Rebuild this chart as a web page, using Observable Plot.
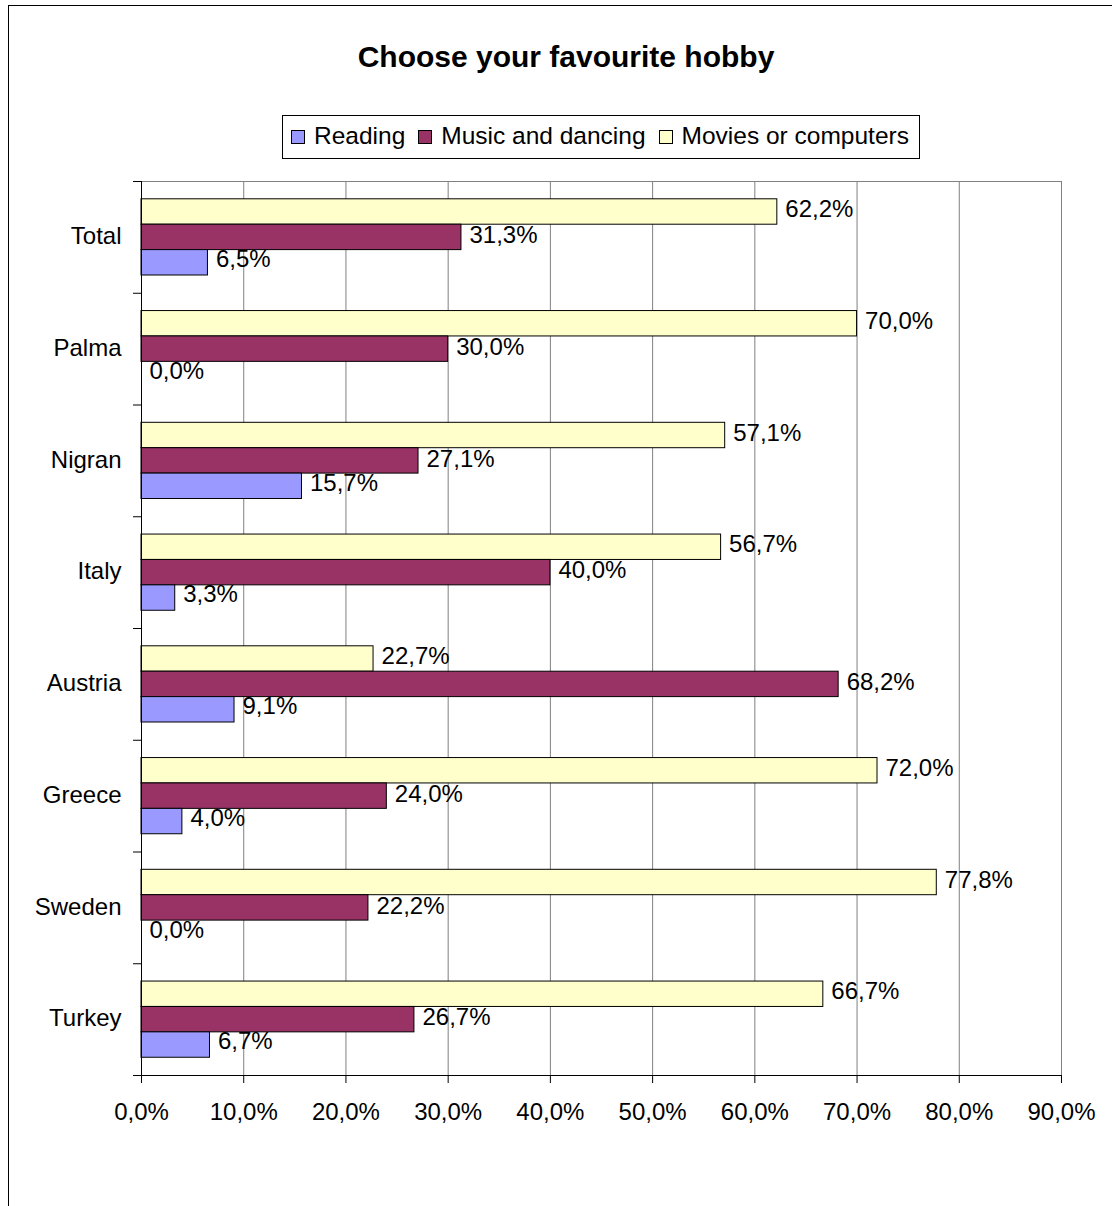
<!DOCTYPE html>
<html>
<head>
<meta charset="utf-8">
<script src="https://cdn.jsdelivr.net/npm/d3@7"></script>
<script src="https://cdn.jsdelivr.net/npm/@observablehq/plot@0.6"></script>
<style>
  html, body { margin: 0; padding: 0; background: #fff; overflow: hidden; }
  #wrap { position: relative; width: 1112px; height: 1206px; overflow: hidden; font-family: "Liberation Sans", Arial, sans-serif; }
  #border { position: absolute; left: 8px; top: 5px; width: 1300px; height: 1400px; border: 1px solid #000; box-sizing: border-box; }
  #title { position: absolute; left: 0; width: 1132px; top: 40px; text-align: center; font-weight: bold; font-size: 30px; color: #000; }
  #legend { position: absolute; left: 282px; top: 115px; width: 638px; height: 44px; border: 1px solid #000; box-sizing: border-box; display: flex; align-items: center; justify-content: flex-start; padding-left: 8px; padding-bottom: 3px; gap: 13px; font-size: 24.5px; }
  .item { display: flex; align-items: center; gap: 9px; white-space: nowrap; }
  .sw { width: 14px; height: 14px; border: 1px solid #000; box-sizing: border-box; margin-top: 3px; }
  #chart { position: absolute; left: 0; top: 0; }
</style>
</head>
<body>
<div id="wrap">
  <div id="border"></div>
  <div id="chart"></div>
  <div id="title"></div>
  <div id="legend"></div>
</div>
<script>
const title = "Choose your favourite hobby";
const categories = ["Total", "Palma", "Nigran", "Italy", "Austria", "Greece", "Sweden", "Turkey"];
const seriesNames = ["Reading", "Music and dancing", "Movies or computers"];
const reading = [6.5, 0.0, 15.7, 3.3, 9.1, 4.0, 0.0, 6.7];
const music = [31.3, 30.0, 27.1, 40.0, 68.2, 24.0, 22.2, 26.7];
const movies = [62.2, 70.0, 57.1, 56.7, 22.7, 72.0, 77.8, 66.7];
const xTicks = [0, 10, 20, 30, 40, 50, 60, 70, 80, 90];
const colors = ["#9999FF", "#993366", "#FFFFCC"];

const fmt = v => v.toFixed(1).replace(".", ",") + "%";

const rows = (vals, s) => categories.map((c, i) => ({category: c, series: s, value: vals[i]}));
const readingRows = rows(reading, seriesNames[0]);
const musicRows = rows(music, seriesNames[1]);
const moviesRows = rows(movies, seriesNames[2]);

document.getElementById("title").textContent = title;
const leg = document.getElementById("legend");
seriesNames.forEach((s, i) => {
  const it = document.createElement("div");
  it.className = "item";
  const sw = document.createElement("div");
  sw.className = "sw";
  sw.style.background = colors[i];
  const t = document.createElement("span");
  t.textContent = s;
  it.appendChild(sw); it.appendChild(t);
  leg.appendChild(it);
});

const W = 1112, H = 1206;
const mT = 181, mB = 131, mL = 141, mR = 51;
const bw = (H - mT - mB) / categories.length;
const gap = 17.8, bh = 25.4;
const FS = 24;

const bar = (data, k) => Plot.barX(data, {
  x: "value", y: "category", fill: colors[seriesNames.indexOf(data[0].series)],
  insetTop: gap + k * bh, insetBottom: bw - gap - (k + 1) * bh, stroke: "#000", strokeWidth: 1
});
const label = (data, dy) => Plot.text(data, {
  x: "value", y: "category", text: d => fmt(d.value), dx: 8, dy,
  textAnchor: "start", fontSize: FS, fill: "#000"
});

const chart = Plot.plot({
  width: W, height: H,
  marginTop: mT, marginBottom: mB, marginLeft: mL, marginRight: mR,
  style: {fontFamily: "'Liberation Sans', Arial, sans-serif", background: "transparent", overflow: "visible"},
  x: {domain: [0, 90], label: null},
  y: {domain: categories, padding: 0, round: false, label: null},
  marks: [
    Plot.ruleX(xTicks.filter(d => d > 0), {stroke: "#808080", strokeWidth: 1}),
    Plot.frame({anchor: "top", stroke: "#808080"}),
    bar(moviesRows, 0),
    bar(musicRows, 1),
    bar(readingRows, 2),
    label(moviesRows, -28),
    label(musicRows, -2),
    label(readingRows, 22),
    Plot.ruleX([0], {stroke: "#000", insetBottom: -8}),
    Plot.frame({anchor: "bottom", stroke: "#000", insetLeft: -8}),
    Plot.axisY({tickSize: 8, tickFormat: () => "", dy: -bw / 2, stroke: "#000", label: null}),
    Plot.axisY({tickSize: 0, tickPadding: 20, fontSize: FS, fill: "#000", label: null, dy: -1}),
    Plot.axisX({ticks: xTicks, tickSize: 8, tickPadding: 19, fontSize: FS, fill: "#000", stroke: "#000",
      tickFormat: d => fmt(d), label: null})
  ]
});
document.getElementById("chart").appendChild(chart);
</script>
</body>
</html>
